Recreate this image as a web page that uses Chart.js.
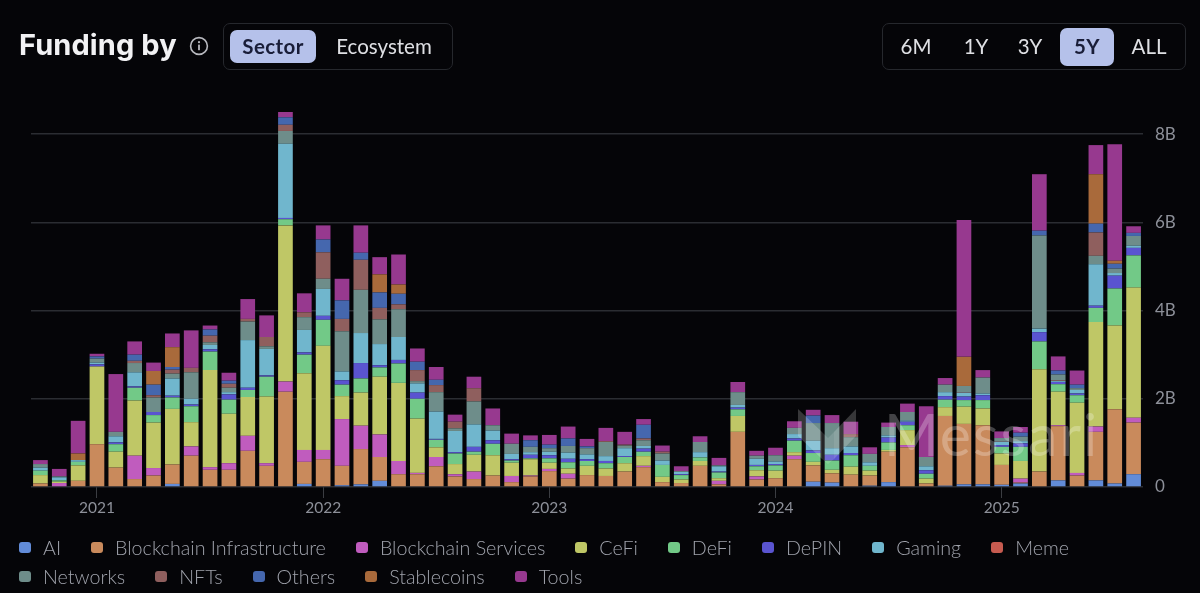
<!DOCTYPE html>
<html>
<head>
<meta charset="utf-8">
<title>Funding by Sector</title>
<script src="https://cdn.jsdelivr.net/npm/chart.js@4"></script>
<style>
html,body{margin:0;padding:0;background:#050508;width:1200px;height:593px;overflow:hidden;font-family:Lato,sans-serif}
#wrap{position:relative;width:1200px;height:593px}
canvas{position:absolute;left:0;top:0}
.abs{position:absolute}
#title{left:19px;top:26px;font-family:Inter,sans-serif;font-size:29px;line-height:38px;font-weight:700;color:#f2f2f4;letter-spacing:.1px;white-space:nowrap}
#info{left:189px;top:36px}
.group{border:1px solid #26282d;border-radius:7px;box-sizing:border-box}
.btn{position:absolute;text-align:center;font-size:20.5px;color:#dfe0e4;white-space:nowrap}
.btn.on{background:#b5c1ea;color:#191d38;font-weight:700;border-radius:7px;letter-spacing:.4px}
#legend{left:19px;top:533px;width:1180px;font-size:19.7px;font-weight:300;color:#a0a3ac}
.row{display:flex;height:29px;line-height:29px;align-items:center}
.item{display:flex;align-items:center;margin-right:30px}
.mark{width:12px;height:11px;border-radius:3px;margin-right:12px}
#mark{left:796px;top:406px}
#wm{left:884px;top:394px;font-size:59px;line-height:80px;color:rgba(255,255,255,.25);letter-spacing:2px;pointer-events:none}
</style>
</head>
<body>
<div id="wrap">
<canvas id="myChart" width="1200" height="593"></canvas>
<div id="title" class="abs">Funding by</div>
<svg id="info" class="abs" width="20" height="20" viewBox="0 0 20 20"><circle cx="10" cy="10" r="8.4" fill="none" stroke="#b8b9bf" stroke-width="1.6"/><circle cx="10" cy="6.2" r="1.1" fill="#b8b9bf"/><rect x="9.1" y="8.6" width="1.8" height="5.6" fill="#b8b9bf"/></svg>
<div class="abs group" style="left:223px;top:23px;width:230px;height:47px">
<div class="btn on" style="left:6px;top:6px;width:86px;height:33px;line-height:32px">Sector</div>
<div class="btn" style="left:100px;top:6px;width:120px;height:33px;line-height:32px">Ecosystem</div>
</div>
<div class="abs group" style="left:882px;top:23px;width:304px;height:47px">
<div class="btn" style="left:8px;top:6px;width:50px;height:35px;line-height:33px">6M</div>
<div class="btn" style="left:68px;top:6px;width:50px;height:35px;line-height:33px">1Y</div>
<div class="btn" style="left:122px;top:6px;width:50px;height:35px;line-height:33px">3Y</div>
<div class="btn on" style="left:177px;top:4px;width:54px;height:38px;line-height:37px">5Y</div>
<div class="btn" style="left:241px;top:6px;width:50px;height:35px;line-height:33px">ALL</div>
</div>
<div id="legend" class="abs"></div>
<svg id="mark" class="abs" width="62" height="62" viewBox="0 0 62 62" style="pointer-events:none"><polygon points="2,3 26,26 26,53 2,30" fill="rgba(255,255,255,.2)"/><polygon points="26,26 32,32 38,26 38,53 32,58 26,53" fill="rgba(255,255,255,.13)"/><polygon points="60,3 38,26 38,53 60,30" fill="rgba(255,255,255,.2)"/></svg>
<div id="wm" class="abs">Messari</div>
</div>
<script>
const months = ['2020-10','2020-11','2020-12',
	'2021-01','2021-02','2021-03','2021-04','2021-05','2021-06','2021-07','2021-08','2021-09','2021-10','2021-11','2021-12',
	'2022-01','2022-02','2022-03','2022-04','2022-05','2022-06','2022-07','2022-08','2022-09','2022-10','2022-11','2022-12',
	'2023-01','2023-02','2023-03','2023-04','2023-05','2023-06','2023-07','2023-08','2023-09','2023-10','2023-11','2023-12',
	'2024-01','2024-02','2024-03','2024-04','2024-05','2024-06','2024-07','2024-08','2024-09','2024-10','2024-11','2024-12',
	'2025-01','2025-02','2025-03','2025-04','2025-05','2025-06','2025-07','2025-08']

// funding per month, in billions
const ai = [0,0,0,0,0,0,0,.07,0,0,0,0,0,0,.07,0,.04,.06,.14,0,0,0,0,0,0,0,0,0,0,0,0,0,0,0,0,0,0,0,0,0,0,.12,.10,0,.03,.11,0,0,.03,.06,.06,.05,.08,0,.15,0,.15,.08,.29]
const infrastructure = [.08,0,.14,.97,.44,.18,.26,.44,.71,.39,.39,.82,.48,2.16,.5,.63,.44,.80,.54,.29,.29,.47,.24,.18,.26,.11,.24,.36,.19,.27,.25,.35,.45,.11,.09,.48,.06,1.25,.17,.2,.63,.37,.21,.28,.23,.69,.9,.08,1.58,1.37,1.34,.45,.02,.35,1.23,.26,1.10,1.68,1.17]
const services = [0,.09,0,0,0,.53,.17,0,.21,.06,.15,.34,.06,.23,.27,.21,1.06,.53,.51,.30,.03,.21,.05,.17,0,.14,.02,.05,.11,0,0,0,.03,0,0,0,.08,0,.07,0,.08,0,0,0,0,0,.05,0,0,0,0,0,.09,0,.02,.06,.12,0,.11]
const cefi = [.19,.03,.35,1.76,.36,1.25,1.03,1.26,.55,2.20,1.12,.88,1.51,3.54,1.74,2.36,.52,.75,1.31,1.77,1.23,.22,.23,.38,.46,.30,.37,.14,.12,.21,.17,.19,.22,.12,.08,.11,.06,.36,.14,.17,.08,.08,.08,.18,.11,.04,.34,.11,.2,.39,.38,.26,.40,2.32,.76,1.59,2.37,1.90,2.95]
const defi = [.10,.03,.08,0,.17,.29,.17,.26,.36,.42,.32,.16,.45,.14,.42,.59,.26,.32,.21,.44,.45,.17,.24,.07,.26,.05,.02,.10,.14,.11,.12,.14,.10,.27,.10,.08,.13,.15,.09,.12,.26,.20,.21,.26,.11,.17,.11,.11,.17,.15,.19,.15,.32,.63,.17,.17,.32,.84,.73]
const depin = [0,0,0,.05,.04,.03,.07,.04,.04,.05,.12,.05,.03,.03,.05,.09,.10,.35,.05,.08,.14,.02,.03,.11,.08,.03,.08,.07,.08,.04,.05,.02,.07,0,.02,0,.02,.04,.03,.03,.05,.06,.13,.05,0,.11,.08,.08,.08,.08,.11,.04,.08,.21,.05,.04,.05,.29,.17]
const gaming = [.07,.07,.04,.04,.14,.32,0,.39,.13,.10,.05,1.08,.60,1.68,.51,.61,.20,.68,.48,.52,.21,.62,.48,.51,.22,.12,.06,.08,.14,.11,.11,.18,.06,.10,.05,.12,.12,.06,.14,.06,.10,.22,.15,.15,.08,.05,.03,.09,.09,.09,.04,.08,.05,.08,.02,.08,.94,.06,.05]
const meme = [0,0,0,0,0,0,0,0,0,0,0,0,0,0,0,0,0,0,0,0,0,0,0,0,0,0,0,0,0,0,0,0,0,0,0,0,0,0,0,0,0,0,0,0,0,0,0,0,0,.01,0,.01,0,0,.01,0,0,0,0]
const networks = [.08,.02,0,.09,.10,.21,.33,.11,.60,.06,.10,.42,.06,.29,.29,.23,.91,.98,.56,.63,.05,.44,.06,.52,.12,.23,.12,.08,.15,.14,.32,.06,.13,.16,.02,.23,.02,.29,.07,.14,.14,.40,.57,.21,.19,.19,.19,.21,.17,.14,.36,.07,.10,2.11,.14,.04,.19,.10,.22]
const nfts = [0,0,0,0,0,.05,.05,.09,.10,.15,.09,.06,.21,.14,.11,.60,.28,.68,.26,.11,.25,.16,.15,.30,0,0,0,0,0,0,.02,.02,.04,.04,0,0,0,0,0,0,0,0,0,.07,0,0,0,0,0,0,0,0,0,0,0,0,.53,0,0]
const others = [0,0,0,.05,0,.14,.24,.06,0,.14,.07,0,0,.17,0,.29,.42,.16,.35,.24,.19,.12,0,0,0,0,.15,.08,.17,.04,0,0,.31,0,0,0,0,0,0,0,0,.17,0,0,0,0,0,0,0,0,0,0,.09,.11,.09,.08,.20,.11,.07]
const stablecoins = [0,0,.15,0,0,0,.31,.45,0,0,0,0,0,0,0,0,0,0,.41,.21,0,0,0,0,0,0,0,0,0,0,0,0,0,0,0,0,0,0,0,0,0,0,0,0,0,0,0,0,0,.66,0,0,0,0,0,0,1.12,.07,0]
const tools = [.09,.17,.74,.06,1.31,.30,.19,.31,.85,.09,.18,.45,.49,.12,.43,.32,.49,.62,.39,.68,.30,.29,.16,.26,.38,.23,.11,.22,.27,.17,.30,.29,.13,.14,.11,.13,.17,.23,.11,.17,.15,.13,.18,.28,.15,.10,.19,1.15,.15,3.10,.17,.15,.13,1.28,.32,.32,.66,2.64,.15]

const seriesNames = ['AI','Blockchain Infrastructure','Blockchain Services','CeFi','DeFi','DePIN','Gaming','Meme','Networks','NFTs','Others','Stablecoins','Tools']
const seriesValues = [ai,infrastructure,services,cefi,defi,depin,gaming,meme,networks,nfts,others,stablecoins,tools]
const seriesColors = ['#628cd8','#c98a5c','#c05cbe','#bfc766','#72c987','#5a54d0','#70b6cd','#c65b50','#6e8d8a','#8f5f5e','#4567ae','#a96a3b','#97398f']
const yearTicks = [0,2,4,6,8]

data_datasets = []
for(i=0;i<seriesNames.length;i++){
	data_datasets.push({
		label: seriesNames[i],
		data: seriesValues[i],
		backgroundColor: seriesColors[i],
		borderWidth: 0,
		stack: 'funding',
		categoryPercentage: 1,
		barPercentage: 0.78
	})
}

const myNewChart = new Chart(document.getElementById('myChart'), {
	type: 'bar',
	data: {
		labels: months,
		datasets: data_datasets
	},
	options: {
		responsive: false,
		animation: false,
		devicePixelRatio: 1,
		layout: {
			padding: {left: 31, right: 0, top: 112, bottom: 66}
		},
		plugins: {
			legend: {display: false},
			title: {display: false},
			tooltip: {enabled: false}
		},
		scales: {
			x: {
				stacked: true,
				offset: true,
				afterBuildTicks: function(scale){
					scale.ticks = scale.ticks.filter(t => months[t.value].endsWith('-01'))
				},
				afterFit: function(scale){ scale.height = 40 },
				grid: {
					offset: false,
					drawOnChartArea: false,
					drawTicks: true,
					tickLength: 11,
					tickColor: '#3b3d42'
				},
				border: {display: false},
				ticks: {
					autoSkip: false,
					maxRotation: 0,
					padding: 1,
					color: '#8d9099',
					font: {family: 'Lato', size: 15.5},
					callback: function(value){ return months[value].slice(0,4) }
				}
			},
			y: {
				stacked: true,
				position: 'right',
				min: 0,
				max: 8.5,
				afterBuildTicks: function(scale){
					scale.ticks = yearTicks.map(v => ({value: v}))
				},
				afterFit: function(scale){ scale.width = 57 },
				grid: {
					color: '#2b2d32',
					lineWidth: 1.5,
					drawTicks: false
				},
				border: {display: false},
				ticks: {
					padding: 12,
					color: '#8d9099',
					font: {family: 'Lato', size: 17},
					callback: function(value){ return value==0 ? '0' : value+'B' }
				}
			}
		}
	}
})

// legend rows, same wrap as the reference
const legendRows = [seriesNames.slice(0,8), seriesNames.slice(8)]
legendBox = document.getElementById('legend')
for(r=0;r<legendRows.length;r++){
	row = document.createElement('div')
	row.className = 'row'
	for(n=0;n<legendRows[r].length;n++){
		item = document.createElement('div')
		item.className = 'item'
		mark = document.createElement('div')
		mark.className = 'mark'
		mark.style.background = seriesColors[seriesNames.indexOf(legendRows[r][n])]
		text = document.createElement('span')
		text.textContent = legendRows[r][n]
		item.appendChild(mark)
		item.appendChild(text)
		row.appendChild(item)
	}
	legendBox.appendChild(row)
}
</script>
</body>
</html>
